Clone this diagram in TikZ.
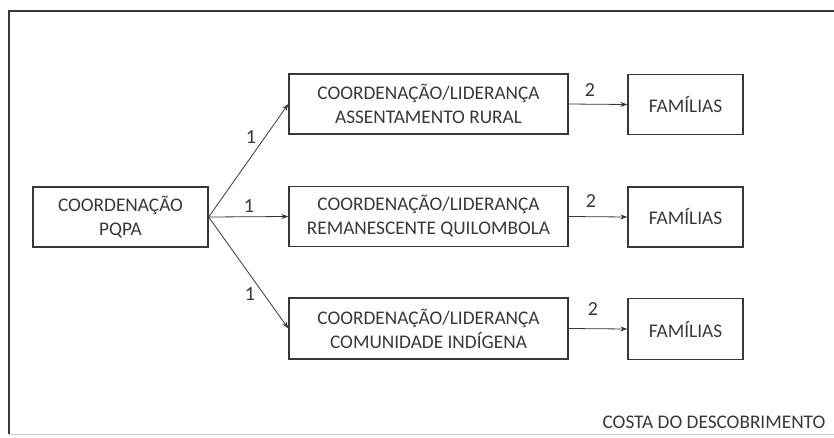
\documentclass[tikz,border=0pt]{standalone}
\usepackage{fontspec}
\setmainfont{Carlito}
\usetikzlibrary{arrows.meta}
\definecolor{ink}{gray}{0.22}
\begin{document}
\begin{tikzpicture}[x=1pt,y=-1pt,
  every node/.style={text=ink,font=\fontsize{19.3}{24}\selectfont},
  box/.style={draw=ink,line width=1.3pt,align=center,inner sep=0pt},
  conn/.style={draw=ink,line width=0.8pt,-{Stealth[length=7pt,width=5pt]}},
  lbl/.style={inner sep=0pt,font=\fontsize{20}{24}\selectfont}]
\useasboundingbox (0,0) rectangle (834,437);
\draw[ink,line width=1.2pt] (834,11) -- (9,11) -- (9,434);
\draw[gray!45,line width=0.8pt] (9,434) -- (834,434);
\node[box,minimum width=175pt,minimum height=60pt] (pqpa) at (120.5,217) {COORDENAÇÃO\\PQPA};
\node[box,minimum width=279pt,minimum height=60pt] (c1) at (428.5,104) {COORDENAÇÃO/LIDERANÇA\\ASSENTAMENTO RURAL};
\node[box,minimum width=279pt,minimum height=60pt] (c2) at (428.5,216.5) {COORDENAÇÃO/LIDERANÇA\\REMANESCENTE QUILOMBOLA};
\node[box,minimum width=279pt,minimum height=61pt] (c3) at (428.5,328.5) {COORDENAÇÃO/LIDERANÇA\\COMUNIDADE INDÍGENA};
\node[box,minimum width=115pt,minimum height=60pt] (f1) at (685.5,104.5) {FAMÍLIAS};
\node[box,minimum width=115pt,minimum height=60pt] (f2) at (685.5,217) {FAMÍLIAS};
\node[box,minimum width=115pt,minimum height=61pt] (f3) at (685.5,329) {FAMÍLIAS};
\draw[conn] (pqpa.east) -- (c1.west);
\draw[conn] (pqpa.east) -- (c2.west);
\draw[conn] (pqpa.east) -- (c3.west);
\draw[conn] (c1.east) -- (f1.west);
\draw[conn] (c2.east) -- (f2.west);
\draw[conn] (c3.east) -- (f3.west);
\node[lbl] (n1) at (251,137) {1};
\node[lbl] (n2) at (249,206) {1};
\node[lbl] (n3) at (250,294) {1};
\node[lbl] (m1) at (590,90) {2};
\node[lbl] (m2) at (591,201) {2};
\node[lbl] (m3) at (593,309) {2};
\node[lbl,anchor=base,font=\fontsize{19.3}{24}\selectfont] (costa) at (714,428) {COSTA DO DESCOBRIMENTO};
\end{tikzpicture}
\end{document}
